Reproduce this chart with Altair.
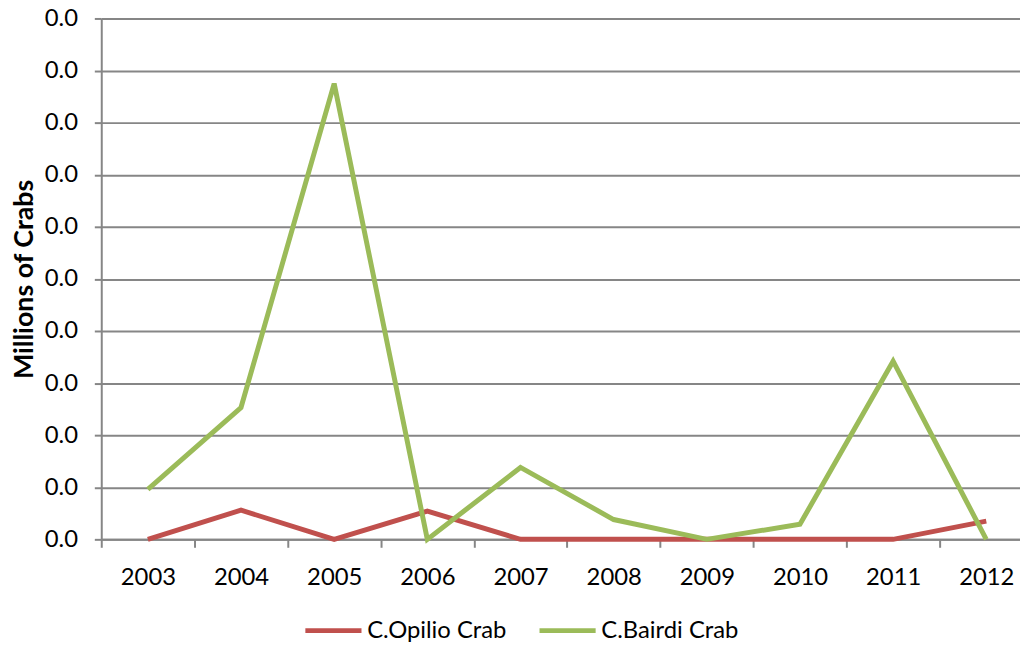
import altair as alt
import pandas as pd

years = [2003, 2004, 2005, 2006, 2007, 2008, 2009, 2010, 2011, 2012]
opilio = [0.0, 0.00056, 0.0, 0.00054, 0.0, 0.0, 0.0, 0.0, 0.0, 0.00035]
bairdi = [0.00096, 0.00253, 0.00875, 0.0, 0.00138, 0.00038, 0.0, 0.00029, 0.00342, 0.0]
series_names = ["C.Opilio Crab", "C.Bairdi Crab"]
series_colors = ["#C0504D", "#9BBB59"]
y_ticks = [i / 1000 for i in range(11)]
x_ticks = [y - 0.5 for y in years]

rows = []
for i, y in enumerate(years):
    rows.append({"year": y, "value": opilio[i], "series": series_names[0], "order": 0})
for i, y in enumerate(years):
    rows.append({"year": y, "value": bairdi[i], "series": series_names[1], "order": 1})
df = pd.DataFrame(rows)

FONT = "Lato"
GRAY = "#868686"

chart = alt.Chart(df).mark_line(strokeWidth=5).encode(
    x=alt.X("year:Q",
            scale=alt.Scale(domain=[2002.5, 2012.362], nice=False, zero=False),
            axis=alt.Axis(values=x_ticks, labelExpr="floor(datum.value) + 1",
                          labelOffset=47, grid=False, tickSize=8, tickWidth=2,
                          tickColor=GRAY, domainColor=GRAY, domainWidth=2,
                          labelFont=FONT, labelFontSize=24, labelColor="#000000",
                          labelPadding=19, title=None, labelFlush=False,
                          labelOverlap=False)),
    y=alt.Y("value:Q",
            scale=alt.Scale(domain=[0, 0.01], nice=False),
            axis=alt.Axis(values=y_ticks, format=".1f", grid=True, gridColor=GRAY,
                          gridWidth=2, tickSize=7, tickWidth=2, tickColor=GRAY,
                          domainColor=GRAY, domainWidth=2, labelFont=FONT,
                          labelFontSize=24, labelColor="#000000", labelPadding=17,
                          title="Millions of Crabs", titleFont=FONT, titleFontSize=27,
                          titleFontWeight="bold", titleColor="#000000", titlePadding=6)),
    color=alt.Color("series:N",
                    scale=alt.Scale(domain=series_names, range=series_colors),
                    legend=alt.Legend(orient="none", direction="horizontal",
                                      legendX=203, legendY=586, title=None,
                                      symbolType="stroke", symbolSize=3200,
                                      symbolStrokeWidth=5, labelFont=FONT,
                                      labelFontSize=24, labelColor="#000000",
                                      labelOffset=3, columnPadding=22)),
    order=alt.Order("order:Q"),
).properties(
    width=926, height=525,
    autosize=alt.AutoSizeParams(type="none"),
    padding={"left": 94, "top": 8, "right": 0, "bottom": 110},
).configure_view(stroke=None)

chart.save("out.html", embed_options={"renderer": "svg", "actions": False})
